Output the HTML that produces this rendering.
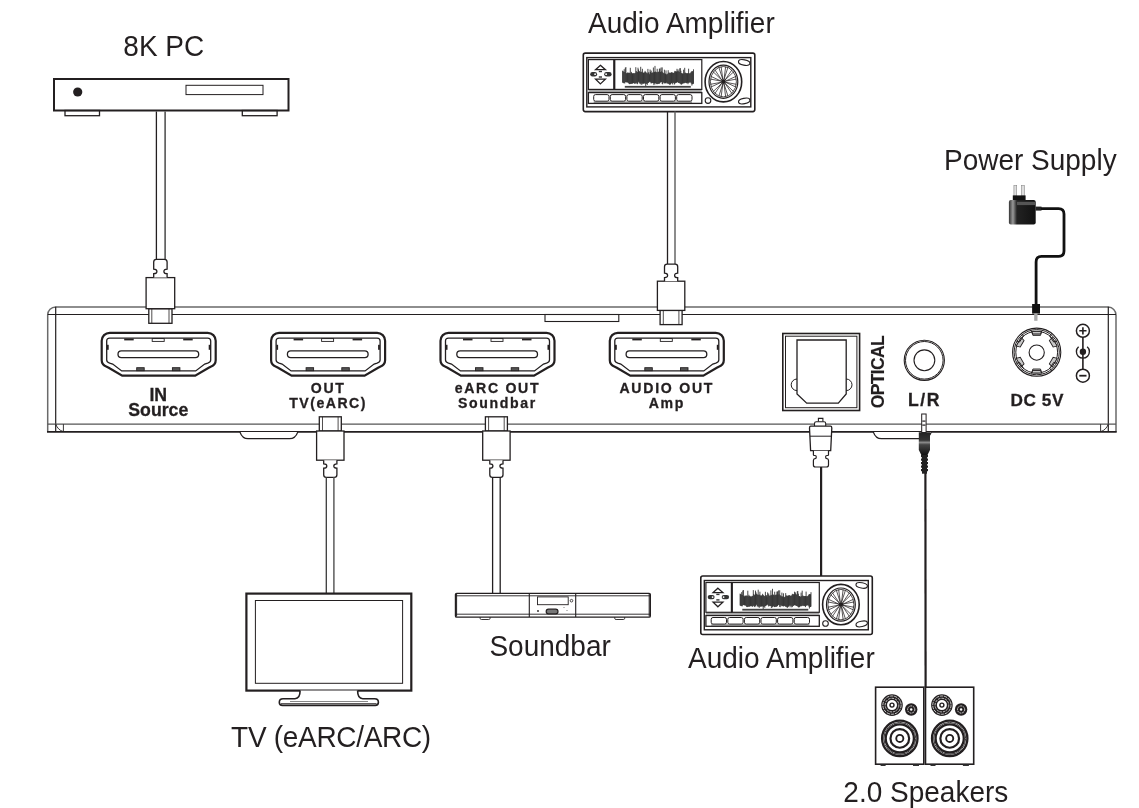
<!DOCTYPE html>
<html><head><meta charset="utf-8">
<style>
html,body{margin:0;padding:0;background:#fff;}
body{width:1139px;height:808px;overflow:hidden;}
svg{display:block;will-change:transform;}
.t{font-family:"Liberation Sans",sans-serif;fill:#231f20;}
.b{font-family:"Liberation Sans",sans-serif;font-weight:bold;fill:#231f20;stroke:#231f20;stroke-width:0.3px;}
</style></head><body>
<svg width="1139" height="808" viewBox="0 0 1139 808">
<defs>
 <g id="port">
  <path d="M8,0 H106 A8,8 0 0 1 114,8 V27.5 Q114,32 109,34 L107,35 L93.5,42.9 H20.5 L7,35 L5,34 Q0,32 0,27.5 V8 A8,8 0 0 1 8,0 Z" fill="#fff" stroke="#231f20" stroke-width="2.2"/>
  <path d="M8,5.3 H106 Q109,5.3 109,8.3 V27.2 Q109,29.2 106,30.3 L103,31.3 L94,38.1 H20 L11,31.3 L8,30.3 Q5,29.2 5,27.2 V8.3 Q5,5.3 8,5.3 Z" fill="none" stroke="#231f20" stroke-width="1.3"/>
  <rect x="16.3" y="18.1" width="80.7" height="6.7" rx="3.35" fill="none" stroke="#231f20" stroke-width="1.3"/>
  <rect x="22.5" y="5.8" width="9.5" height="1.8" fill="#231f20"/>
  <rect x="50.5" y="5.8" width="12" height="2.8" fill="none" stroke="#231f20" stroke-width="0.9"/>
  <rect x="81.5" y="5.8" width="9.5" height="1.8" fill="#231f20"/>
  <rect x="5.2" y="12" width="1.8" height="5" fill="#231f20"/>
  <rect x="107" y="12" width="1.8" height="5" fill="#231f20"/>
  <rect x="35" y="34.9" width="7.5" height="3" fill="#555" stroke="#231f20" stroke-width="0.9"/>
  <rect x="70.7" y="34.9" width="7.5" height="3" fill="#555" stroke="#231f20" stroke-width="0.9"/>
 </g>
 <g id="plug">
  <rect x="-11.6" y="-14.6" width="23.2" height="14.6" fill="#fff" stroke="#231f20" stroke-width="1.3"/>
  <line x1="-8.6" y1="-14.6" x2="-8.6" y2="0" stroke="#231f20" stroke-width="0.8"/>
  <line x1="8.6" y1="-14.6" x2="8.6" y2="0" stroke="#231f20" stroke-width="0.8"/>
  <rect x="-14.3" y="-45.7" width="28.6" height="31.1" fill="#fff" stroke="#231f20" stroke-width="1.3"/>
  <path d="M-6.7,-45.7 V-49.6 Q-3.5,-49.6 -3.5,-51.9 Q-3.5,-54.2 -6.7,-54.2 V-61.3 Q-6.7,-64 -4,-64 H4 Q6.7,-64 6.7,-61.3 V-54.2 Q3.5,-54.2 3.5,-51.9 Q3.5,-49.6 6.7,-49.6 V-45.7" fill="#fff" stroke="#231f20" stroke-width="1.3"/>
 </g>
 <g id="plug2">
  <rect x="-11" y="-14.2" width="22" height="14.2" fill="#fff" stroke="#231f20" stroke-width="1.3"/>
  <line x1="-7.8" y1="-14.2" x2="-7.8" y2="0" stroke="#231f20" stroke-width="0.8"/>
  <line x1="7.8" y1="-14.2" x2="7.8" y2="0" stroke="#231f20" stroke-width="0.8"/>
  <rect x="-13.7" y="-43.4" width="27.4" height="29.2" fill="#fff" stroke="#231f20" stroke-width="1.3"/>
  <path d="M-6.6,-43.4 V-47 Q-3.5,-47 -3.5,-49.2 Q-3.5,-51.4 -6.6,-51.4 V-57.9 Q-6.6,-60.5 -4,-60.5 H4 Q6.6,-60.5 6.6,-57.9 V-51.4 Q3.5,-51.4 3.5,-49.2 Q3.5,-47 6.6,-47 V-43.4" fill="#fff" stroke="#231f20" stroke-width="1.3"/>
 </g>
 <g id="amp">
  <rect x="0.5" y="0.5" width="171.5" height="58.5" rx="2" fill="#fff" stroke="#231f20" stroke-width="1.6"/>
  <rect x="4" y="5" width="164" height="49.3" fill="none" stroke="#231f20" stroke-width="1.4"/>
  <rect x="5.6" y="7" width="25.6" height="29.8" fill="none" stroke="#231f20" stroke-width="1.2"/>
  <rect x="31.8" y="7" width="87.2" height="29.8" fill="none" stroke="#231f20" stroke-width="1.2"/>
  <line x1="31.5" y1="7" x2="31.5" y2="36.8" stroke="#231f20" stroke-width="1.8"/>
  <line x1="5.6" y1="38.4" x2="119" y2="38.4" stroke="#888" stroke-width="1.4"/>
  <rect x="5.6" y="40" width="113.4" height="10.8" fill="none" stroke="#231f20" stroke-width="1.3"/>
  <g fill="none" stroke="#231f20" stroke-width="1">
   <rect x="10.9" y="42" width="15.3" height="6.6" rx="1.8"/>
   <rect x="27.5" y="42" width="15.3" height="6.6" rx="1.8"/>
   <rect x="44.1" y="42" width="15.3" height="6.6" rx="1.8"/>
   <rect x="60.7" y="42" width="15.3" height="6.6" rx="1.8"/>
   <rect x="77.3" y="42" width="15.3" height="6.6" rx="1.8"/>
   <rect x="93.9" y="42" width="15.3" height="6.6" rx="1.8"/>
  </g>
  <line x1="10.9" y1="49.5" x2="109.2" y2="49.5" stroke="#555" stroke-width="1"/>
  <path d="M17.6,12.7 L22.6,17.1 H12.8 Z M17.6,31.3 L22.6,26.6 H12.8 Z" fill="none" stroke="#231f20" stroke-width="1.3" stroke-linejoin="miter"/>
  <rect x="7.4" y="19.4" width="6.9" height="4.4" rx="2.2" fill="#333"/>
  <rect x="21.4" y="19.4" width="7.4" height="4.4" rx="2.2" fill="#333"/>
  <circle cx="12.3" cy="21.6" r="0.9" fill="#fff"/>
  <circle cx="23.3" cy="21.6" r="0.9" fill="#fff"/>
  <rect x="16" y="18.2" width="3.2" height="1.4" fill="#333"/>
  <rect x="16" y="23.7" width="3.2" height="1.4" fill="#333"/>
  <path d="M39.8,18.1V30.0M40.3,18.6V30.3M40.9,19.1V30.6M41.4,16.6V30.6M42.0,19.4V30.8M42.5,15.1V29.5M43.1,14.5V29.5M43.6,20.5V29.7M44.2,20.9V29.8M44.7,19.9V29.8M45.3,20.5V30.0M45.8,20.1V30.6M46.4,20.1V31.4M46.9,20.4V31.6M47.5,15.2V31.4M48.0,20.8V31.1M48.6,19.3V31.2M49.1,20.4V31.1M49.7,20.7V31.0M50.2,21.2V30.6M50.8,20.4V30.4M51.3,21.5V30.7M51.9,20.5V31.1M52.4,20.3V31.2M53.0,14.6V30.4M53.5,18.4V30.1M54.1,19.7V31.2M54.6,19.3V31.6M55.2,15.1V30.6M55.7,16.8V29.2M56.3,18.3V29.3M56.8,18.8V30.9M57.4,19.4V30.7M57.9,14.2V31.7M58.5,19.5V30.9M59.0,19.0V32.3M59.6,16.2V31.0M60.1,19.9V31.2M60.7,20.2V31.0M61.2,20.1V31.0M61.8,19.7V30.6M62.3,18.3V31.0M62.9,19.4V33.8M63.4,19.9V31.4M64.0,20.5V31.1M64.5,20.8V32.3M65.1,16.3V30.5M65.6,19.8V30.3M66.2,19.8V29.8M66.7,21.6V29.2M67.3,16.9V29.1M67.8,19.3V29.9M68.4,18.0V31.0M68.9,20.4V30.4M69.5,20.0V30.3M70.0,19.9V30.5M70.6,14.9V30.7M71.1,19.7V32.5M71.7,19.2V30.8M72.2,13.3V31.8M72.8,18.9V30.4M73.3,19.4V30.9M73.9,19.8V31.5M74.4,16.2V31.6M75.0,19.6V31.3M75.5,19.2V31.2M76.1,19.1V31.2M76.6,16.1V31.1M77.2,15.9V30.5M77.7,19.3V29.7M78.3,14.9V29.4M78.8,18.7V29.6M79.4,14.8V31.4M79.9,19.6V31.7M80.5,20.3V29.9M81.0,20.8V30.0M81.6,17.1V30.8M82.1,20.9V30.6M82.7,21.1V30.4M83.2,17.8V31.0M83.8,21.8V30.0M84.3,21.6V30.5M84.9,21.0V31.0M85.4,17.6V31.2M86.0,20.0V31.2M86.5,20.1V31.8M87.1,20.3V32.3M87.6,20.3V31.7M88.2,20.0V31.2M88.7,19.7V30.4M89.3,19.7V30.1M89.8,20.1V31.8M90.4,20.4V30.2M90.9,20.3V30.3M91.5,19.7V31.9M92.0,18.3V31.5M92.6,18.7V30.3M93.1,18.8V30.4M93.7,18.9V30.1M94.2,16.2V29.6M94.8,18.6V29.5M95.3,16.9V30.0M95.9,18.6V30.4M96.4,19.4V30.5M97.0,15.8V30.7M97.5,15.5V31.1M98.1,18.2V31.7M98.6,20.5V32.0M99.2,20.6V31.6M99.7,20.9V31.0M100.3,21.2V30.7M100.8,17.1V30.7M101.4,20.6V30.7M101.9,15.2V30.3M102.5,20.0V30.1M103.0,20.4V30.2M103.6,20.8V30.6M104.1,20.5V30.6M104.7,20.8V30.2M105.2,20.5V31.6M105.8,16.1V30.3M106.3,20.7V30.0M106.9,20.9V29.8M107.4,20.6V29.8M108.0,19.9V29.9M108.5,19.1V31.0M109.1,18.6V33.0M109.6,18.6V31.6M110.2,18.8V31.5M110.7,16.7V31.1" stroke="#2a2a2a" stroke-width="0.85" fill="none"/>
  <rect x="42" y="33.3" width="66" height="1.8" fill="#444"/>
  <ellipse cx="140.6" cy="29.1" rx="18.3" ry="20.2" fill="none" stroke="#231f20" stroke-width="1.6"/>
  <ellipse cx="140.6" cy="29.1" rx="14.4" ry="16.6" fill="none" stroke="#231f20" stroke-width="1.2"/>
  <ellipse cx="140.6" cy="29.1" rx="13" ry="15.2" fill="none" stroke="#231f20" stroke-width="0.8"/>
  <g stroke="#231f20" stroke-width="0.75"><line x1="142.73" y1="29.67" x2="153.61" y2="31.72"/><line x1="142.73" y1="29.67" x2="152.99" y2="34.37"/><line x1="142.16" y1="30.66" x2="150.73" y2="38.90"/><line x1="142.16" y1="30.66" x2="149.06" y2="40.85"/><line x1="141.17" y1="31.23" x2="145.15" y2="43.46"/><line x1="141.17" y1="31.23" x2="142.86" y2="44.17"/><line x1="140.03" y1="31.23" x2="138.34" y2="44.17"/><line x1="140.03" y1="31.23" x2="136.05" y2="43.46"/><line x1="139.04" y1="30.66" x2="132.14" y2="40.85"/><line x1="139.04" y1="30.66" x2="130.47" y2="38.90"/><line x1="138.47" y1="29.67" x2="128.21" y2="34.37"/><line x1="138.47" y1="29.67" x2="127.59" y2="31.72"/><line x1="138.47" y1="28.53" x2="127.59" y2="26.48"/><line x1="138.47" y1="28.53" x2="128.21" y2="23.83"/><line x1="139.04" y1="27.54" x2="130.47" y2="19.30"/><line x1="139.04" y1="27.54" x2="132.14" y2="17.35"/><line x1="140.03" y1="26.97" x2="136.05" y2="14.74"/><line x1="140.03" y1="26.97" x2="138.34" y2="14.03"/><line x1="141.17" y1="26.97" x2="142.86" y2="14.03"/><line x1="141.17" y1="26.97" x2="145.15" y2="14.74"/><line x1="142.16" y1="27.54" x2="149.06" y2="17.35"/><line x1="142.16" y1="27.54" x2="150.73" y2="19.30"/><line x1="142.73" y1="28.53" x2="152.99" y2="23.83"/><line x1="142.73" y1="28.53" x2="153.61" y2="26.48"/></g>
  <circle cx="140.6" cy="29.1" r="2.4" fill="#231f20"/>
  <ellipse cx="161.4" cy="9.9" rx="5.8" ry="2.7" transform="rotate(10 161.4 9.9)" fill="none" stroke="#231f20" stroke-width="1.1"/>
  <ellipse cx="161.4" cy="48.4" rx="5.8" ry="2.7" transform="rotate(-12 161.4 48.4)" fill="none" stroke="#231f20" stroke-width="1.1"/>
  <circle cx="125.2" cy="48" r="2.8" fill="none" stroke="#231f20" stroke-width="1.1"/>
 </g>
</defs>

<!-- TEXT LABELS -->
<text class="t" font-size="28" text-anchor="middle" transform="translate(163.8 55.8) scale(1 1.03)">8K PC</text>
<text class="t" font-size="28" text-anchor="middle" transform="translate(681.4 32.9) scale(1 1.03)">Audio Amplifier</text>
<text class="t" font-size="28" text-anchor="middle" transform="translate(1030.3 169.8) scale(1 1.03)">Power Supply</text>
<text class="t" font-size="28" letter-spacing="-0.3" text-anchor="middle" transform="translate(331 746.6) scale(1 1.03)">TV (eARC/ARC)</text>
<text class="t" font-size="28" text-anchor="middle" transform="translate(550.1 655.5) scale(1 1.03)">Soundbar</text>
<text class="t" font-size="28" text-anchor="middle" transform="translate(781.4 667.7) scale(1 1.03)">Audio Amplifier</text>
<text class="t" font-size="28" text-anchor="middle" transform="translate(925.8 801.6) scale(1 1.03)">2.0 Speakers</text>

<!-- 8K PC -->
<rect x="54" y="79" width="234.5" height="31.5" fill="#fff" stroke="#231f20" stroke-width="2"/>
<circle cx="77.7" cy="92" r="4.6" fill="#231f20"/>
<rect x="186" y="85.3" width="77" height="9.3" fill="none" stroke="#231f20" stroke-width="1"/>
<rect x="65" y="110.5" width="34.5" height="5.2" fill="none" stroke="#231f20" stroke-width="1.3"/>
<rect x="242.3" y="110.5" width="34.8" height="5.2" fill="none" stroke="#231f20" stroke-width="1.3"/>
<line x1="156.4" y1="111.5" x2="156.4" y2="260" stroke="#231f20" stroke-width="1.3"/>
<line x1="165.1" y1="111.5" x2="165.1" y2="260" stroke="#3c3c3c" stroke-width="1.4"/>

<!-- top amp -->
<use href="#amp" x="582.8" y="52.6"/>
<line x1="667.5" y1="111.5" x2="667.5" y2="265" stroke="#231f20" stroke-width="1.3"/>
<line x1="675" y1="111.5" x2="675" y2="265" stroke="#666" stroke-width="1.5"/>

<!-- MAIN DEVICE -->
<path d="M47.7,431.8 V315 A8,8 0 0 1 55.7,307 H1108.3 A8,8 0 0 1 1116,315 V431.8" fill="#fff" stroke="#6a6a6a" stroke-width="1.5"/>
<line x1="47.7" y1="314.5" x2="1116" y2="314.5" stroke="#231f20" stroke-width="1.1"/>
<line x1="55.7" y1="306.7" x2="55.7" y2="431.8" stroke="#231f20" stroke-width="1.2"/>
<line x1="1108.3" y1="306.7" x2="1108.3" y2="431.8" stroke="#231f20" stroke-width="1.2"/>
<line x1="47.7" y1="424.1" x2="1116" y2="424.1" stroke="#555" stroke-width="1.4"/>
<line x1="47" y1="431.8" x2="1116.7" y2="431.8" stroke="#231f20" stroke-width="1.8"/>
<path d="M63.4,424.2 V431.8 M55.7,424.2 Q58,430 63,431.5" fill="none" stroke="#231f20" stroke-width="0.9"/>
<path d="M1100.6,424.2 V431.8 M1108.3,424.2 Q1106,430 1101,431.5" fill="none" stroke="#231f20" stroke-width="0.9"/>
<rect x="545" y="314.5" width="73.8" height="7" fill="none" stroke="#231f20" stroke-width="1.1"/>
<!-- feet -->
<path d="M239.9,432 C241.5,436.5 244,438.7 248,438.7 H289.5 C293.5,438.7 296.2,436.5 297.8,432" fill="#fff" stroke="#231f20" stroke-width="1.2"/>
<path d="M873.3,432 C874.9,436.5 877.4,438.7 881.4,438.7 H923 C927,438.7 929.7,436.5 931.3,432" fill="#fff" stroke="#231f20" stroke-width="1.2"/>

<use href="#port" x="101.7" y="332.8"/>
<use href="#port" x="271.1" y="332.8"/>
<use href="#port" x="440.5" y="332.8"/>
<use href="#port" x="609.8" y="332.8"/>

<text class="b" x="158.3" y="400.9" font-size="17.7" text-anchor="middle">IN</text>
<text class="b" x="158.3" y="416" font-size="17.7" letter-spacing="0" text-anchor="middle">Source</text>
<text class="b" x="328.1" y="393" font-size="14.1" letter-spacing="1.6" text-anchor="middle">OUT</text>
<text class="b" x="328.1" y="407.9" font-size="14.1" letter-spacing="1.5" text-anchor="middle">TV(eARC)</text>
<text class="b" x="497.5" y="393" font-size="14.1" letter-spacing="1.7" text-anchor="middle">eARC OUT</text>
<text class="b" x="497.5" y="407.9" font-size="14.1" letter-spacing="1.65" text-anchor="middle">Soundbar</text>
<text class="b" x="666.8" y="392.9" font-size="14.1" letter-spacing="1.75" text-anchor="middle">AUDIO OUT</text>
<text class="b" x="666.8" y="407.7" font-size="14.1" letter-spacing="1.6" text-anchor="middle">Amp</text>
<text class="b" x="0" y="0" font-size="17.6" letter-spacing="-0.7" text-anchor="middle" style="stroke-width:0.1px" transform="translate(884.2 372.2) rotate(-90)">OPTICAL</text>
<text class="b" x="924.5" y="405.8" font-size="17.6" letter-spacing="1.6" text-anchor="middle">L/R</text>
<text class="b" x="1037.2" y="405.5" font-size="17.2" letter-spacing="0.6" text-anchor="middle">DC 5V</text>

<!-- optical port -->
<rect x="782.8" y="333.5" width="76.8" height="77" fill="none" stroke="#231f20" stroke-width="1.6"/>
<rect x="785.5" y="336.2" width="71.4" height="71.5" fill="none" stroke="#231f20" stroke-width="1"/>
<path d="M797,340 H846.2 V394 L838.3,403.2 H806.7 L797,394 Z" fill="none" stroke="#231f20" stroke-width="1.3"/>
<path d="M797,379 A5.8,5.8 0 0 0 797,390.6 M846.2,379 A5.8,5.8 0 0 1 846.2,390.6" fill="none" stroke="#231f20" stroke-width="1"/>

<!-- L/R jack -->
<circle cx="924.3" cy="360.3" r="20.1" fill="none" stroke="#231f20" stroke-width="1.1"/>
<circle cx="924.3" cy="360.3" r="18.8" fill="none" stroke="#231f20" stroke-width="1"/>
<circle cx="924.4" cy="360.3" r="10.4" fill="none" stroke="#231f20" stroke-width="1.1"/>

<!-- DC jack -->
<circle cx="1036.7" cy="352.2" r="24.1" fill="none" stroke="#231f20" stroke-width="1.1"/>
<circle cx="1036.7" cy="352.2" r="22.6" fill="none" stroke="#231f20" stroke-width="1"/>
<circle cx="1036.7" cy="352.2" r="20.9" fill="none" stroke="#231f20" stroke-width="1"/>
<circle cx="1036.7" cy="352.6" r="7.6" fill="none" stroke="#231f20" stroke-width="1.1"/>
<g id="notch"><path d="M1031.8,331.4 L1032.9,335.4 H1040.5 L1041.6,331.4 Z" fill="#c8c8c8" stroke="#231f20" stroke-width="0.9"/></g>
<use href="#notch" transform="rotate(60 1036.7 352.2)"/>
<use href="#notch" transform="rotate(120 1036.7 352.2)"/>
<use href="#notch" transform="rotate(180 1036.7 352.2)"/>
<use href="#notch" transform="rotate(240 1036.7 352.2)"/>
<use href="#notch" transform="rotate(300 1036.7 352.2)"/>

<!-- polarity -->
<line x1="1082.9" y1="337" x2="1082.9" y2="369" stroke="#231f20" stroke-width="1.6"/>
<circle cx="1082.9" cy="330.8" r="6.5" fill="#fff" stroke="#231f20" stroke-width="1.5"/>
<path d="M1079.3,330.8 H1086.5 M1082.9,327.2 V334.4" stroke="#231f20" stroke-width="1.6"/>
<circle cx="1082.9" cy="375.7" r="6.5" fill="#fff" stroke="#231f20" stroke-width="1.5"/>
<path d="M1079.3,375.7 H1086.5" stroke="#231f20" stroke-width="1.8"/>
<path d="M1087.2,346.8 A6.5,6.5 0 1 1 1078.6,346.8" fill="none" stroke="#231f20" stroke-width="1.4"/>
<circle cx="1082.9" cy="351.8" r="3.2" fill="#231f20"/>

<!-- plugs into top -->
<use href="#plug" x="160.4" y="323.3"/>
<use href="#plug2" x="671.1" y="324.6"/>
<!-- plugs into bottom (pointing up) -->
<use href="#plug2" transform="translate(330.3 416.8) scale(1 -1)"/>
<use href="#plug2" transform="translate(496.4 416.8) scale(1 -1)"/>

<!-- cables down -->
<line x1="326.3" y1="477" x2="326.3" y2="593" stroke="#3a3a3a" stroke-width="1.3"/>
<line x1="333.9" y1="477" x2="333.9" y2="593" stroke="#505050" stroke-width="1.4"/>
<line x1="492.6" y1="477" x2="492.6" y2="593.5" stroke="#231f20" stroke-width="1.3"/>
<line x1="500.2" y1="477" x2="500.2" y2="593.5" stroke="#231f20" stroke-width="1.3"/>

<!-- TV -->
<rect x="246.4" y="593.6" width="164.9" height="97" fill="#fff" stroke="#231f20" stroke-width="2.2"/>
<rect x="255.4" y="600.5" width="147.2" height="82.8" fill="none" stroke="#231f20" stroke-width="1"/>
<path d="M300.1,690.6 C300.1,695 299,698.7 295,698.7 H283 C280.5,698.7 279.3,700.5 279.3,702.3 C279.3,704.3 280.3,705.4 282.5,705.4 H375.2 C377.4,705.4 378.4,704.3 378.4,702.3 C378.4,700.5 377.2,698.7 374.7,698.7 H362.7 C358.7,698.7 357.6,695 357.6,690.6" fill="#fff" stroke="#231f20" stroke-width="1.6"/>
<line x1="281" y1="703.7" x2="376.6" y2="703.7" stroke="#231f20" stroke-width="0.9"/>
<line x1="290" y1="701.5" x2="368" y2="701.5" stroke="#555" stroke-width="0.7"/>

<!-- Soundbar -->
<rect x="455.5" y="593.4" width="194.8" height="23.7" rx="1.2" fill="#fff" stroke="#231f20" stroke-width="1.4"/>
<line x1="456.6" y1="594" x2="456.6" y2="616.5" stroke="#231f20" stroke-width="1"/>
<line x1="649.2" y1="594" x2="649.2" y2="616.5" stroke="#231f20" stroke-width="1"/>
<line x1="455.5" y1="595.8" x2="650.3" y2="595.8" stroke="#231f20" stroke-width="0.9"/>
<line x1="455.5" y1="614.2" x2="650.3" y2="614.2" stroke="#231f20" stroke-width="0.9"/>
<line x1="529.3" y1="593.4" x2="529.3" y2="617.1" stroke="#231f20" stroke-width="1.1"/>
<line x1="575.7" y1="593.4" x2="575.7" y2="617.1" stroke="#231f20" stroke-width="1.1"/>
<rect x="537.5" y="596.9" width="30.7" height="7.8" fill="none" stroke="#231f20" stroke-width="0.9"/>
<circle cx="571.5" cy="600.7" r="1.3" fill="none" stroke="#231f20" stroke-width="0.8"/>
<rect x="546.2" y="609.2" width="11.8" height="4.6" rx="2.3" fill="#777" stroke="#231f20" stroke-width="1.2"/>
<circle cx="538" cy="611" r="0.9" fill="#231f20"/>
<circle cx="564" cy="607.5" r="0.5" fill="#555"/>
<circle cx="567" cy="610.5" r="0.5" fill="#555"/>
<path d="M480.1,617.2 V618.3 Q480.1,619.5 481.5,619.5 H488.7 Q490.1,619.5 490.1,618.3 V617.2" fill="none" stroke="#231f20" stroke-width="0.9"/>
<path d="M614.7,617.2 V618.3 Q614.7,619.5 616.1,619.5 H623.3 Q624.7,619.5 624.7,618.3 V617.2" fill="none" stroke="#231f20" stroke-width="0.9"/>

<!-- power supply -->
<rect x="1013.9" y="185.6" width="2.8" height="10.5" fill="#ddd" stroke="#888" stroke-width="0.6"/>
<rect x="1021.5" y="185.6" width="2.8" height="10.5" fill="#ddd" stroke="#888" stroke-width="0.6"/>
<rect x="1012.8" y="195.4" width="12.8" height="5.2" fill="#111"/>
<linearGradient id="psg" x1="0" x2="1" y1="0" y2="0">
 <stop offset="0" stop-color="#333"/><stop offset="0.15" stop-color="#999"/><stop offset="0.3" stop-color="#222"/><stop offset="1" stop-color="#111"/>
</linearGradient>
<rect x="1008.9" y="200.1" width="26.8" height="24.5" rx="2" fill="url(#psg)"/>
<rect x="1017" y="201.8" width="18.7" height="3.3" fill="#555"/>
<rect x="1035.5" y="206.6" width="6" height="4" fill="#222"/>
<path d="M1041,208.6 H1058.5 Q1064,208.6 1064,214.1 V251 Q1064,256.4 1058.5,256.4 H1041.5 Q1036.1,256.4 1036.1,262 V304" fill="none" stroke="#111" stroke-width="2.8"/>
<rect x="1032.1" y="304" width="7.9" height="9.6" fill="#111"/>
<rect x="1034.2" y="313.4" width="3.3" height="7.4" fill="#aaa"/>

<!-- DC jack notches -->
<g fill="none" stroke="#231f20" stroke-width="1">
 <path d="M1031.5,330.8 L1032.5,334 H1040.7 L1041.7,330.8"/>
 <path d="M1031.5,373.6 L1032.5,370.4 H1040.7 L1041.7,373.6"/>
 <path d="M1016.5,341 L1019.5,342 L1023.5,336 L1021.5,333.5"/>
 <path d="M1056.7,341 L1053.7,342 L1049.7,336 L1051.7,333.5"/>
 <path d="M1016.5,363.4 L1019.5,362.4 L1023.5,368.4 L1021.5,370.9"/>
 <path d="M1056.7,363.4 L1053.7,362.4 L1049.7,368.4 L1051.7,370.9"/>
</g>

<!-- optical plug -->
<path d="M818.4,421.7 V418.4 H822.9 V421.7" fill="#fff" stroke="#231f20" stroke-width="1.1"/>
<path d="M814.5,426.2 V423.5 Q814.5,421.7 816.3,421.7 H824 Q825.7,421.7 825.7,423.5 V426.2" fill="#fff" stroke="#231f20" stroke-width="1.1"/>
<path d="M810.8,426.2 H830.5 Q831.8,426.2 831.8,428 L830.7,450.7 H810.6 L809.5,428 Q809.5,426.2 810.8,426.2 Z" fill="#fff" stroke="#231f20" stroke-width="1.3"/>
<line x1="810" y1="436.2" x2="831.3" y2="436.2" stroke="#231f20" stroke-width="1"/>
<path d="M813.4,450.7 V454.8 Q813.4,455.5 814.2,455.5 H815 Q816.3,455.5 816.3,457 Q816.3,458.6 815,458.6 Q813.4,458.6 813.4,460.5 V465 Q813.4,467 815.5,467 H826.4 Q828.5,467 828.5,465 V460.5 Q828.5,458.6 826.9,458.6 Q825.6,458.6 825.6,457 Q825.6,455.5 826.9,455.5 H827.7 Q828.5,455.5 828.5,454.8 V450.7" fill="#fff" stroke="#231f20" stroke-width="1.2"/>
<line x1="821.1" y1="467" x2="821.1" y2="576" stroke="#231f20" stroke-width="2.2"/>

<!-- 3.5mm plug -->
<rect x="921.7" y="414" width="4.4" height="18.5" fill="#fff" stroke="#231f20" stroke-width="1"/>
<rect x="922.3" y="420.5" width="3.2" height="1.2" fill="#231f20"/>
<rect x="922.3" y="424.5" width="3.2" height="1.2" fill="#231f20"/>
<linearGradient id="jg" x1="0" x2="0" y1="0" y2="1">
 <stop offset="0" stop-color="#222"/><stop offset="0.35" stop-color="#333"/><stop offset="0.45" stop-color="#888"/><stop offset="0.55" stop-color="#444"/><stop offset="1" stop-color="#111"/>
</linearGradient>
<path d="M918.8,432.2 H930 V450 L927.5,455 H921.3 L918.8,450 Z" fill="url(#jg)"/>
<g fill="#222">
 <rect x="921" y="455" width="7" height="2.2"/>
 <rect x="921" y="458.5" width="7" height="2.2"/>
 <rect x="921" y="462" width="7" height="2.2"/>
 <rect x="921" y="465.5" width="7" height="2.2"/>
 <rect x="921" y="469" width="7" height="2.2"/>
 <rect x="922" y="455" width="5" height="18.7"/>
</g>
<line x1="925.4" y1="473" x2="925.6" y2="687.5" stroke="#231f20" stroke-width="2.2"/>

<!-- speakers -->
<g id="spk">
 <rect x="875.6" y="687.2" width="48.2" height="77" fill="#fff" stroke="#231f20" stroke-width="1.6"/>
 <circle cx="892" cy="705.1" r="10.8" fill="#231f20"/>
 <circle cx="892" cy="705.1" r="9.15" fill="none" stroke="#fff" stroke-width="0.75" stroke-dasharray="3.2 0.9"/>
 <circle cx="892" cy="705.1" r="6.85" fill="none" stroke="#fff" stroke-width="0.7" stroke-dasharray="2.6 0.9"/>
 <circle cx="892" cy="705.1" r="5" fill="#fff"/>
 <circle cx="892" cy="705.1" r="2" fill="none" stroke="#231f20" stroke-width="1.4"/>
 <circle cx="911.2" cy="709.5" r="6.2" fill="#231f20"/>
 <circle cx="911.2" cy="709.5" r="3.6" fill="none" stroke="#fff" stroke-width="0.8" stroke-dasharray="1.8 0.8"/>
 <circle cx="911.2" cy="709.5" r="1.2" fill="#fff"/>
 <g fill="none" stroke="#231f20">
  <circle cx="899.8" cy="738.4" r="17.7" stroke-width="2.3"/>
  <circle cx="899.8" cy="738.4" r="16" stroke-width="0.9"/>
  <circle cx="899.8" cy="738.4" r="14.1" stroke-width="2.3"/>
  <circle cx="899.8" cy="738.4" r="9.35" stroke-width="2.2"/>
  <circle cx="899.8" cy="738.4" r="3.55" stroke-width="1.9"/>
 </g>
 <rect x="880.6" y="764.5" width="5" height="1.5" fill="#333"/>
 <rect x="913" y="764.5" width="6" height="1.5" fill="#333"/>
</g>
<use href="#spk" x="49.9" y="0"/>

<!-- bottom amp -->
<use href="#amp" x="700.3" y="575.5"/>

</svg>
</body></html>
